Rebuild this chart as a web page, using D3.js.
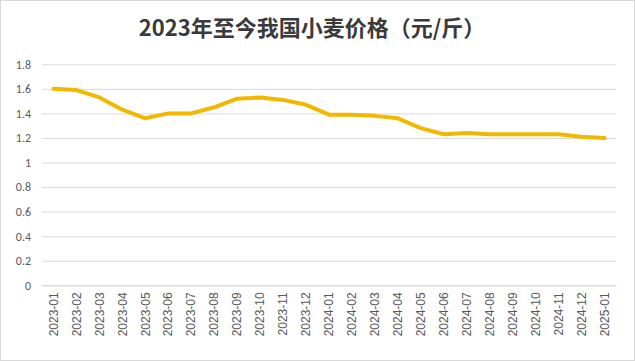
<!DOCTYPE html>
<html><head><meta charset="utf-8">
<script src="https://cdn.jsdelivr.net/npm/d3@7"></script>
<style>body{margin:0;background:#fff}svg{display:block}</style>
</head><body>
<script>
const months = ["2023-01","2023-02","2023-03","2023-04","2023-05","2023-06","2023-07","2023-08","2023-09","2023-10","2023-11","2023-12","2024-01","2024-02","2024-03","2024-04","2024-05","2024-06","2024-07","2024-08","2024-09","2024-10","2024-11","2024-12","2025-01"];
const prices = [1.60,1.59,1.53,1.43,1.36,1.40,1.40,1.45,1.52,1.53,1.51,1.47,1.39,1.39,1.38,1.36,1.28,1.23,1.24,1.23,1.23,1.23,1.23,1.21,1.20];
const yTicks = [0,0.2,0.4,0.6,0.8,1,1.2,1.4,1.6,1.8];
const title = "2023年至今我国小麦价格（元/斤）";

const W=635,H=361;
const svg=d3.select("body").append("svg").attr("width",W).attr("height",H);
svg.append("rect").attr("x",0.5).attr("y",0.5).attr("width",W-1).attr("height",H-1).attr("fill","#fff").attr("stroke","#d9d9d9");

const x=d3.scaleBand().domain(months).range([42,616]);
const y=d3.scaleLinear().domain([0,1.8]).range([285.3,64.3]);

svg.append("text").attr("x",312).attr("y",36).attr("text-anchor","middle")
  .attr("font-family","'Noto Sans CJK SC', sans-serif").attr("font-weight","bold")
  .attr("font-size",22).attr("fill","#3a3a3a").text(title);

const ya=svg.append("g").attr("transform","translate(42,0)")
  .call(d3.axisLeft(y).tickValues(yTicks).tickSize(-(616-42)).tickFormat(d3.format("~g")));
ya.select(".domain").remove();
ya.selectAll("line").attr("stroke","#d9d9d9");
ya.selectAll("text").attr("x",-11).attr("fill","#595959").attr("font-size",12)
  .attr("font-family","Calibri, 'Liberation Sans', Arial, sans-serif");

const xa=svg.append("g").attr("transform","translate(0,285.3)")
  .call(d3.axisBottom(x).tickSize(0));
xa.select(".domain").attr("stroke","#d9d9d9");
xa.selectAll("text").attr("transform","rotate(-90)").attr("text-anchor","end")
  .attr("x",-7).attr("y",0).attr("dy","0.35em").attr("fill","#595959").attr("font-size",12)
  .attr("font-family","'Liberation Sans', Arial, sans-serif");

const line=d3.line().x((d,i)=>x(months[i])+x.bandwidth()/2).y(d=>y(d));
svg.append("path").datum(prices).attr("d",line).attr("fill","none")
  .attr("stroke","#F2B800").attr("stroke-width",4).attr("stroke-linejoin","round").attr("stroke-linecap","round");
</script>
</body></html>
